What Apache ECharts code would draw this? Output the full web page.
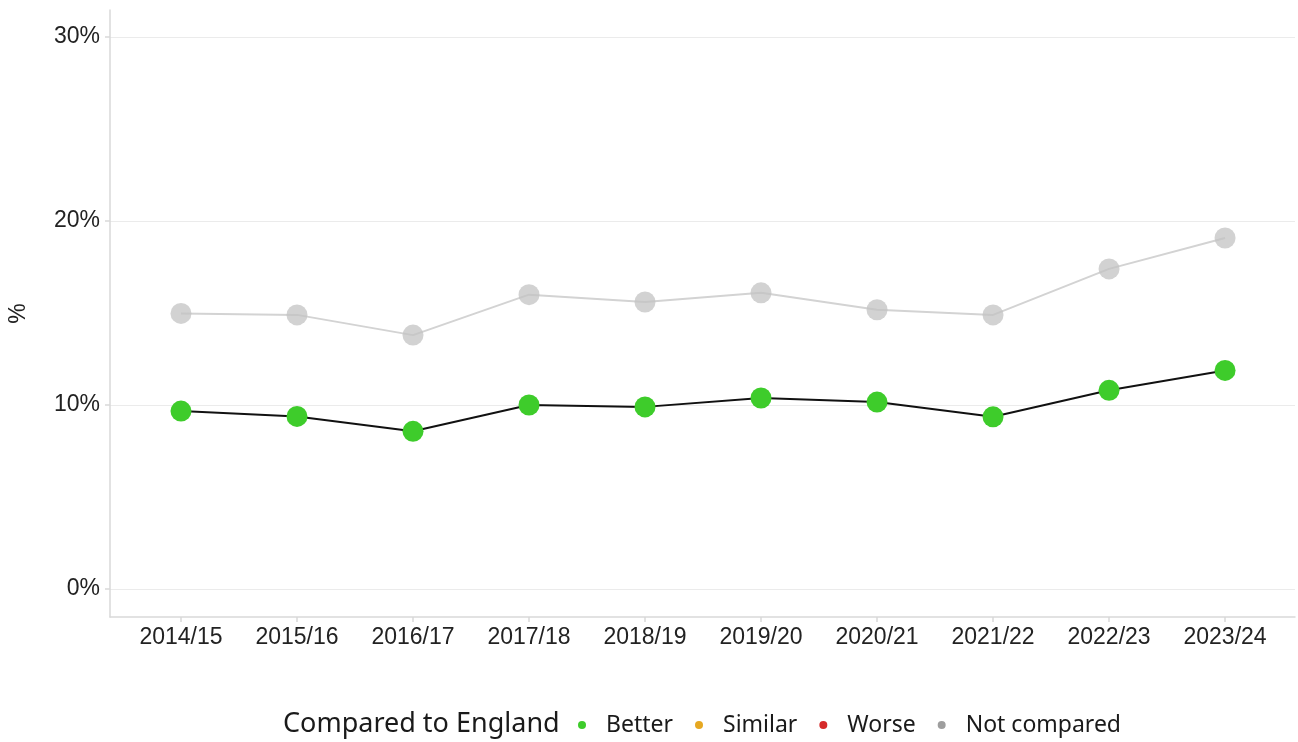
<!DOCTYPE html>
<html>
<head>
<meta charset="utf-8">
<script src="https://cdn.jsdelivr.net/npm/echarts@6/dist/echarts.min.js"></script>
<style>
  html, body { margin: 0; padding: 0; background: #fff; }
  #main { width: 1298px; height: 742px; }
</style>
</head>
<body>
<div id="main"></div>
<script>
// chart data
const years = ['2014/15', '2015/16', '2016/17', '2017/18', '2018/19', '2019/20', '2020/21', '2021/22', '2022/23', '2023/24']
const localValues = [9.67, 9.38, 8.57, 10.0, 9.9, 10.38, 10.16, 9.36, 10.8, 11.88]
const englandValues = [14.98, 14.9, 13.8, 16.0, 15.6, 16.1, 15.18, 14.9, 17.4, 19.08]
const yTicks = [0, 10, 20, 30]

let myChart = echarts.init(document.getElementById('main'))
const axisFont = 'Liberation Sans, Arial, sans-serif'
const legendFont = 'Noto Sans, sans-serif'

let option = {
  animation: false,
  grid: { left: 110, right: 3, top: 10, bottom: 125, containLabel: false, outerBoundsMode: 'none' },
  graphic: [{
    type: 'text',
    left: 283,
    top: 711,
    style: { text: 'Compared to England', fontSize: 27, fontFamily: legendFont, fill: '#1a1a1a' }
  }],
  legend: {
    data: [
      { name: 'Better', itemStyle: { color: '#3ecc2b' } },
      { name: 'Similar', itemStyle: { color: '#e6a822' } },
      { name: 'Worse', itemStyle: { color: '#d62a2a' } },
      { name: 'Not compared', itemStyle: { color: '#9e9e9e' } }
    ],
    icon: 'circle',
    left: 573,
    top: 706,
    itemWidth: 38,
    itemHeight: 8,
    itemGap: 22,
    textStyle: { fontSize: 23, fontFamily: legendFont, color: '#1a1a1a', lineHeight: 28 }
  },
  xAxis: {
    type: 'value',
    min: -0.612,
    max: 9.603,
    axisLine: { show: true, onZero: false, lineStyle: { color: '#d9d9d9', width: 1.5 } },
    axisTick: { show: true, length: 5, customValues: years.map((y, i) => i), lineStyle: { color: '#d9d9d9', width: 1.5 } },
    axisLabel: {
      customValues: years.map((y, i) => i),
      formatter: (v) => years[Math.round(v)],
      fontSize: 23,
      fontFamily: axisFont,
      color: '#222',
      margin: 9
    },
    splitLine: { show: false }
  },
  yAxis: {
    type: 'value',
    name: '%',
    nameLocation: 'middle',
    nameGap: 80,
    nameRotate: 90,
    nameTextStyle: { fontSize: 23, fontFamily: axisFont, color: '#222' },
    min: -1.52,
    max: 31.47,
    axisLine: { show: true, onZero: false, lineStyle: { color: '#d9d9d9', width: 1.5 } },
    axisTick: { show: true, length: 5, customValues: yTicks, lineStyle: { color: '#d9d9d9', width: 1.5 } },
    axisLabel: {
      customValues: yTicks,
      formatter: (v) => v + '%',
      fontSize: 23,
      fontFamily: axisFont,
      color: '#222',
      margin: 10
    },
    splitLine: { show: true, lineStyle: { color: '#ebebeb', width: 1.2 } }
  },
  series: [
    {
      name: 'Not compared',
      type: 'line',
      data: englandValues.map((v, i) => [i, v]),
      symbol: 'circle',
      symbolSize: 21,
      lineStyle: { color: '#d3d3d3', width: 2 },
      itemStyle: { color: 'rgba(195,195,195,0.75)' },
      z: 2
    },
    {
      name: 'Better',
      type: 'line',
      data: localValues.map((v, i) => [i, v]),
      symbol: 'circle',
      symbolSize: 21,
      lineStyle: { color: '#111', width: 2 },
      itemStyle: { color: '#3ecc2b' },
      z: 3
    },
    { name: 'Similar', type: 'line', data: [], itemStyle: { color: '#e6a822' } },
    { name: 'Worse', type: 'line', data: [], itemStyle: { color: '#d62a2a' } }
  ]
}
myChart.setOption(option)
</script>
</body>
</html>
